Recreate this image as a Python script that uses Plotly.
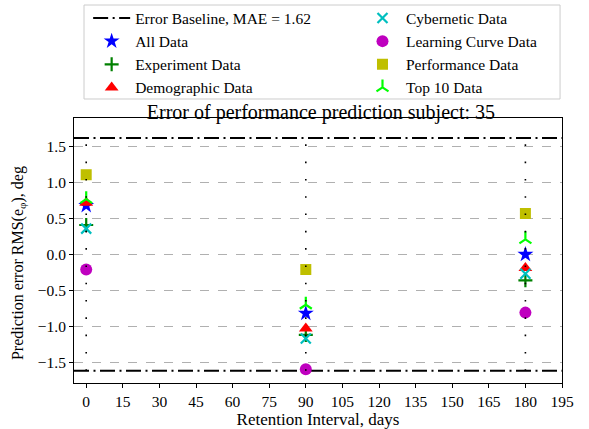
import plotly.graph_objects as go

# Retention intervals (days) at which each prediction was evaluated
retention_days = [0, 90, 180]

# Signed prediction error RMS(e_phi), deg, for each feature set
all_data = [0.68, -0.82, 0.00]
experiment_data = [0.41, -1.12, -0.36]
demographic_data = [0.72, -1.03, -0.19]
cybernetic_data = [0.36, -1.17, -0.27]
learning_curve_data = [-0.21, -1.60, -0.81]
performance_data = [1.11, -0.21, 0.57]
top10_data = [0.77, -0.70, 0.21]

# Mean absolute error of the baseline predictor
mae = 1.62

x_ticks = list(range(0, 196, 15))
y_ticks = [-1.5, -1.0, -0.5, 0.0, 0.5, 1.0, 1.5]
x_limits = [-5, 195]
y_limits = [-1.79, 1.90]

FONT = "Liberation Serif"
BASE_DASH = "15px,4.5px,2px,4.5px"

fig = go.Figure()

# Baseline error band edges (dash-dot)
fig.add_trace(go.Scatter(
    x=x_limits, y=[mae, mae], mode="lines",
    line=dict(color="black", width=2, dash=BASE_DASH),
    name=f"Error Baseline, MAE = {mae:.2f}", legend="legend", legendrank=1,
))
fig.add_trace(go.Scatter(
    x=x_limits, y=[-mae, -mae], mode="lines",
    line=dict(color="black", width=2, dash=BASE_DASH),
    showlegend=False,
))

# (name, values, marker, legend column, rank within column)
series = [
    ("All Data", all_data, dict(symbol="star", color="#0000ff", size=12), "legend", 2),
    ("Experiment Data", experiment_data,
     dict(symbol="cross-thin", color="#008000", size=10,
          line=dict(color="#008000", width=2.2)), "legend", 3),
    ("Demographic Data", demographic_data,
     dict(symbol="triangle-up", color="#ff0000", size=12), "legend", 4),
    ("Cybernetic Data", cybernetic_data,
     dict(symbol="x-thin", color="#00bfbf", size=10,
          line=dict(color="#00bfbf", width=2.2)), "legend2", 1),
    ("Learning Curve Data", learning_curve_data,
     dict(symbol="circle", color="#bf00bf", size=12), "legend2", 2),
    ("Performance Data", performance_data,
     dict(symbol="square", color="#bfbf00", size=11), "legend2", 3),
    ("Top 10 Data", top10_data,
     dict(symbol="y-up", color="#00ff00", size=10,
          line=dict(color="#00ff00", width=2.2)), "legend2", 4),
]

for name, values, marker, leg, rank in series:
    fig.add_trace(go.Scatter(
        x=retention_days, y=values, mode="markers", name=name,
        marker=marker, legend=leg, legendrank=rank,
    ))

# Dotted guides at each evaluated retention interval
guide_x, guide_y = [], []
for d in retention_days:
    guide_x += [d, d, None]
    guide_y += [-mae, mae, None]
fig.add_trace(go.Scatter(
    x=guide_x, y=guide_y, mode="lines",
    line=dict(color="black", width=1.6, dash="1.6px,15.7px"),
    showlegend=False, hoverinfo="skip",
))

legend_font = dict(family=FONT, size=15.5, color="black")
legend_common = dict(
    orientation="v", yanchor="top", xanchor="left",
    bgcolor="rgba(0,0,0,0)", borderwidth=0, itemwidth=37,
    font=legend_font, traceorder="normal", tracegroupgap=0,
)

fig.update_layout(
    width=589, height=429,
    margin=dict(l=74, r=27, t=118, b=46, autoexpand=False),
    paper_bgcolor="white", plot_bgcolor="white",
    font=dict(family=FONT, size=15, color="black"),
    title=dict(
        text="Error of performance prediction subject: 35",
        xref="paper", x=0.506, xanchor="center",
        y=1 - 112 / 429, yanchor="middle",
        font=dict(family=FONT, size=20, color="black"),
    ),
    legend=dict(x=0.029, y=1.44, **legend_common),
    legend2=dict(x=0.584, y=1.44, **legend_common),
    showlegend=True,
    # frame around the two legend columns
    shapes=[dict(
        type="rect", xref="paper", yref="paper",
        x0=0.0205, x1=0.996, y0=1.0717, y1=1.4264,
        line=dict(color="#cccccc", width=1), fillcolor="rgba(0,0,0,0)",
        layer="above",
    )],
    annotations=[dict(
        text="Prediction error RMS(e<sub>φ</sub>), deg",
        textangle=-90, xref="paper", yref="paper",
        x=-0.115, y=0.452, xanchor="center", yanchor="middle",
        showarrow=False, font=dict(family=FONT, size=16, color="black"),
    )],
)

fig.update_xaxes(
    range=x_limits, tickmode="array", tickvals=x_ticks,
    ticks="outside", ticklen=4, tickwidth=1, tickcolor="black",
    showline=True, linecolor="black", linewidth=1, mirror=True,
    showgrid=False, zeroline=False,
    tickfont=dict(family=FONT, size=15.5, color="black"),
    title=dict(text="Retention Interval, days", standoff=6,
               font=dict(family=FONT, size=17, color="black")),
)
fig.update_yaxes(
    range=y_limits, tickmode="array", tickvals=y_ticks, tickformat=".1f",
    ticks="outside", ticklen=4, tickwidth=1, tickcolor="black",
    showline=True, linecolor="black", linewidth=1, mirror=True,
    showgrid=True, gridcolor="#b0b0b0", gridwidth=1, griddash="dash",
    zeroline=False,
    tickfont=dict(family=FONT, size=15.5, color="black"),
)

fig.write_html("out.html")
